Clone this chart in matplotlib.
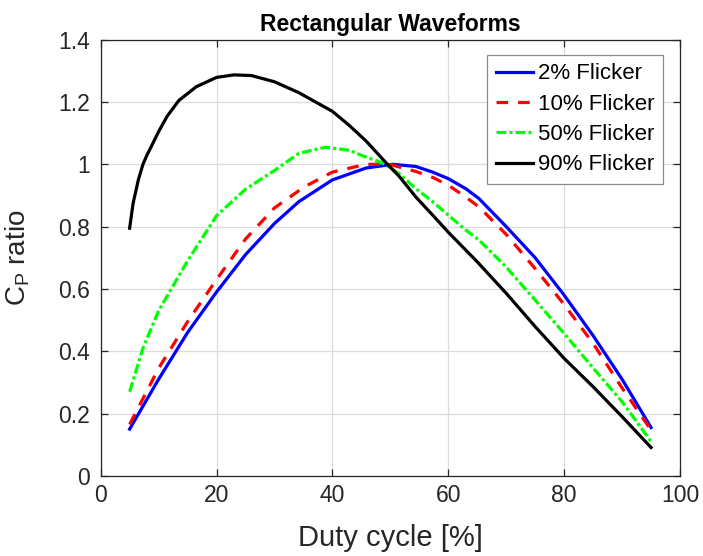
import numpy as np
import matplotlib
matplotlib.use("Agg")
import matplotlib.pyplot as plt

plt.rcParams["font.family"] = ["Liberation Sans", "DejaVu Sans"]
plt.rcParams["mathtext.fontset"] = "custom"
plt.rcParams["mathtext.rm"] = "Liberation Sans"
plt.rcParams["mathtext.it"] = "Liberation Sans:italic"

# duty cycle [%] and C_P ratio
duty_2 = [5, 10, 15, 20, 25, 30, 34.2, 40, 45.8, 50.4, 54.4, 57.3, 60, 63, 65.3,
          70, 75, 80, 85, 90, 95]
cp_2 = [0.15, 0.31, 0.46, 0.59, 0.71, 0.81, 0.88, 0.95, 0.988, 1.0, 0.993, 0.975,
        0.954, 0.922, 0.89, 0.80, 0.70, 0.58, 0.45, 0.31, 0.155]

duty_10 = [5, 10, 15, 20, 25, 30, 35.1, 40, 45.8, 49.8, 54.4, 57.3, 60, 63, 65.3,
           70, 75, 80, 85, 90, 95]
cp_10 = [0.165, 0.345, 0.495, 0.63, 0.76, 0.86, 0.927, 0.975, 1.0, 1.0, 0.977, 0.958,
         0.933, 0.895, 0.863, 0.775, 0.665, 0.55, 0.425, 0.282, 0.147]

duty_50 = [5, 7.3, 10, 15, 20, 25, 30, 34.2, 38.8, 42.9, 45.8, 48.6, 51.5, 54.4,
           57.3, 60, 63, 65.3, 70, 75, 80, 85, 90, 95]
cp_50 = [0.27, 0.41, 0.53, 0.69, 0.835, 0.92, 0.98, 1.035, 1.055, 1.045, 1.023,
         1.005, 0.97, 0.922, 0.88, 0.837, 0.789, 0.757, 0.67, 0.564, 0.457, 0.346,
         0.238, 0.11]

duty_90 = [5, 5.6, 6.5, 7.3, 8, 9, 10, 11.5, 13.5, 16.5, 20, 23, 26, 30, 34.2, 40,
           42.9, 45.8, 49.5, 51.5, 54.4, 57.3, 60, 65, 70, 75, 80, 85, 90, 95]
cp_90 = [0.795, 0.875, 0.95, 1.0, 1.03, 1.067, 1.105, 1.155, 1.205, 1.249, 1.279,
         1.287, 1.285, 1.265, 1.23, 1.17, 1.125, 1.075, 1.0, 0.962, 0.895, 0.837,
         0.782, 0.687, 0.586, 0.479, 0.377, 0.286, 0.19, 0.091]

fig = plt.figure(figsize=(7.03, 5.56), dpi=100)
ax = fig.add_axes([0.1432, 0.1442, 0.8241, 0.7844])

lw = 2.3
ax.plot(duty_2, cp_2, color="#0000ff", lw=lw, label="2% Flicker")
ax.plot(duty_10, cp_10, color="#ff0000", lw=lw, ls=(0, (3.65, 3.1)), label="10% Flicker")
ax.plot(duty_50, cp_50, color="#00ff00", lw=lw, ls=(0, (3.1, 0.95, 0.95, 0.95)),
        label="50% Flicker")
ax.plot(duty_90, cp_90, color="#000000", lw=lw, label="90% Flicker")

ax.set_xlim(0, 100)
ax.set_ylim(0, 1.4)
ax.set_xticks([0, 20, 40, 60, 80, 100])
ax.set_yticks([0, 0.2, 0.4, 0.6, 0.8, 1.0, 1.2, 1.4])
ax.set_yticklabels(["0", "0.2", "0.4", "0.6", "0.8", "1", "1.2", "1.4"])

ax.grid(True, color="#dcdcdc", lw=0.9)
ax.set_axisbelow(True)
for s in ax.spines.values():
    s.set_color("#262626")
    s.set_linewidth(0.9)
ax.tick_params(direction="in", length=5, width=0.9, colors="#262626",
               labelsize=16.5, top=True, right=True)
ax.tick_params(axis="x", pad=6)
ax.tick_params(axis="y", pad=7.5)

ax.set_xlabel("Duty cycle [%]", fontsize=21, color="#262626", labelpad=12)
ax.set_ylabel(r"C$_{\rm P}$ ratio", fontsize=20, color="#262626", labelpad=19)
ax.set_title("Rectangular Waveforms", fontsize=16.5, fontweight="bold", pad=6)

leg = ax.legend(loc="upper right", bbox_to_anchor=(0.971, 0.965), fontsize=16,
                fancybox=False, framealpha=1, edgecolor="#8c8c8c",
                handlelength=1.7, handletextpad=0.22, borderpad=0.38,
                labelspacing=0.42, borderaxespad=0)
leg.get_frame().set_linewidth(0.9)

fig.savefig("out.png", dpi=100)
